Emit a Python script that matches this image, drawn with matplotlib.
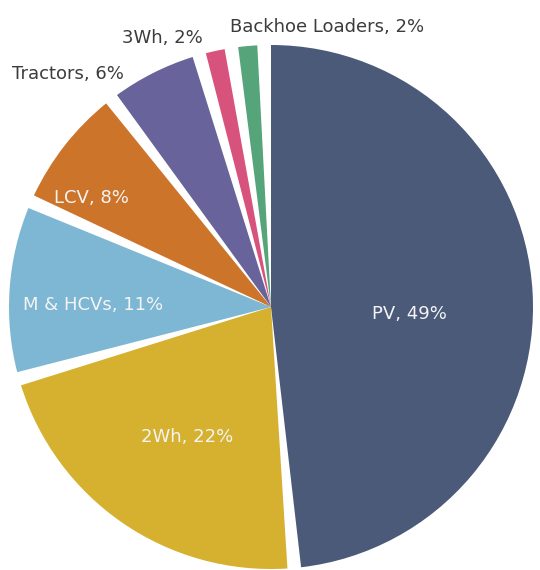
import matplotlib
matplotlib.use("Agg")
import matplotlib.pyplot as plt
import numpy as np

# segment shares, clockwise from the top
labels = ["PV", "2Wh", "M & HCVs", "LCV", "Tractors", "3Wh", "Backhoe Loaders"]
shares = [49, 22, 11, 8, 6, 2, 2]
colors = ["#4a5a78", "#d5b12f", "#7db7d3", "#cd742b", "#68639a", "#d8527e", "#56a57a"]

# label placement: polar angle (deg) and distance (fraction of radius)
label_ang = [-3, 237, 179.4, 148.7, 131, 112, 78.7]
label_r = [0.53, 0.59, 0.68, 0.80, 1.18, 1.107, 1.09]
inside = [True, True, True, True, False, False, False]

W, H = 540, 570
fig = plt.figure(figsize=(W / 100, H / 100), dpi=100, facecolor="white")
ax = fig.add_axes([0, 0, 1, 1])

cx, cy, R = 271, H - 307, 262
gap = 3.0  # degrees of white between wedges

wedges, _ = ax.pie(shares, colors=colors, startangle=91.5, counterclock=False,
                   center=(cx, cy), radius=R, wedgeprops=dict(linewidth=0))
for w in wedges:
    w.set_theta1(w.theta1 + gap / 2)
    w.set_theta2(w.theta2 - gap / 2)

for lab, s, a, r, ins in zip(labels, shares, label_ang, label_r, inside):
    t = np.deg2rad(a)
    ax.text(cx + r * R * np.cos(t), cy + r * R * np.sin(t), f"{lab}, {s}%",
            ha="center", va="center", fontsize=13,
            color="#f4f4f4" if ins else "#3c3c3c", family="DejaVu Sans")

ax.set_xlim(0, W)
ax.set_ylim(0, H)
ax.set_aspect("equal")
ax.axis("off")

fig.savefig("out.png", dpi=100, facecolor="white")
